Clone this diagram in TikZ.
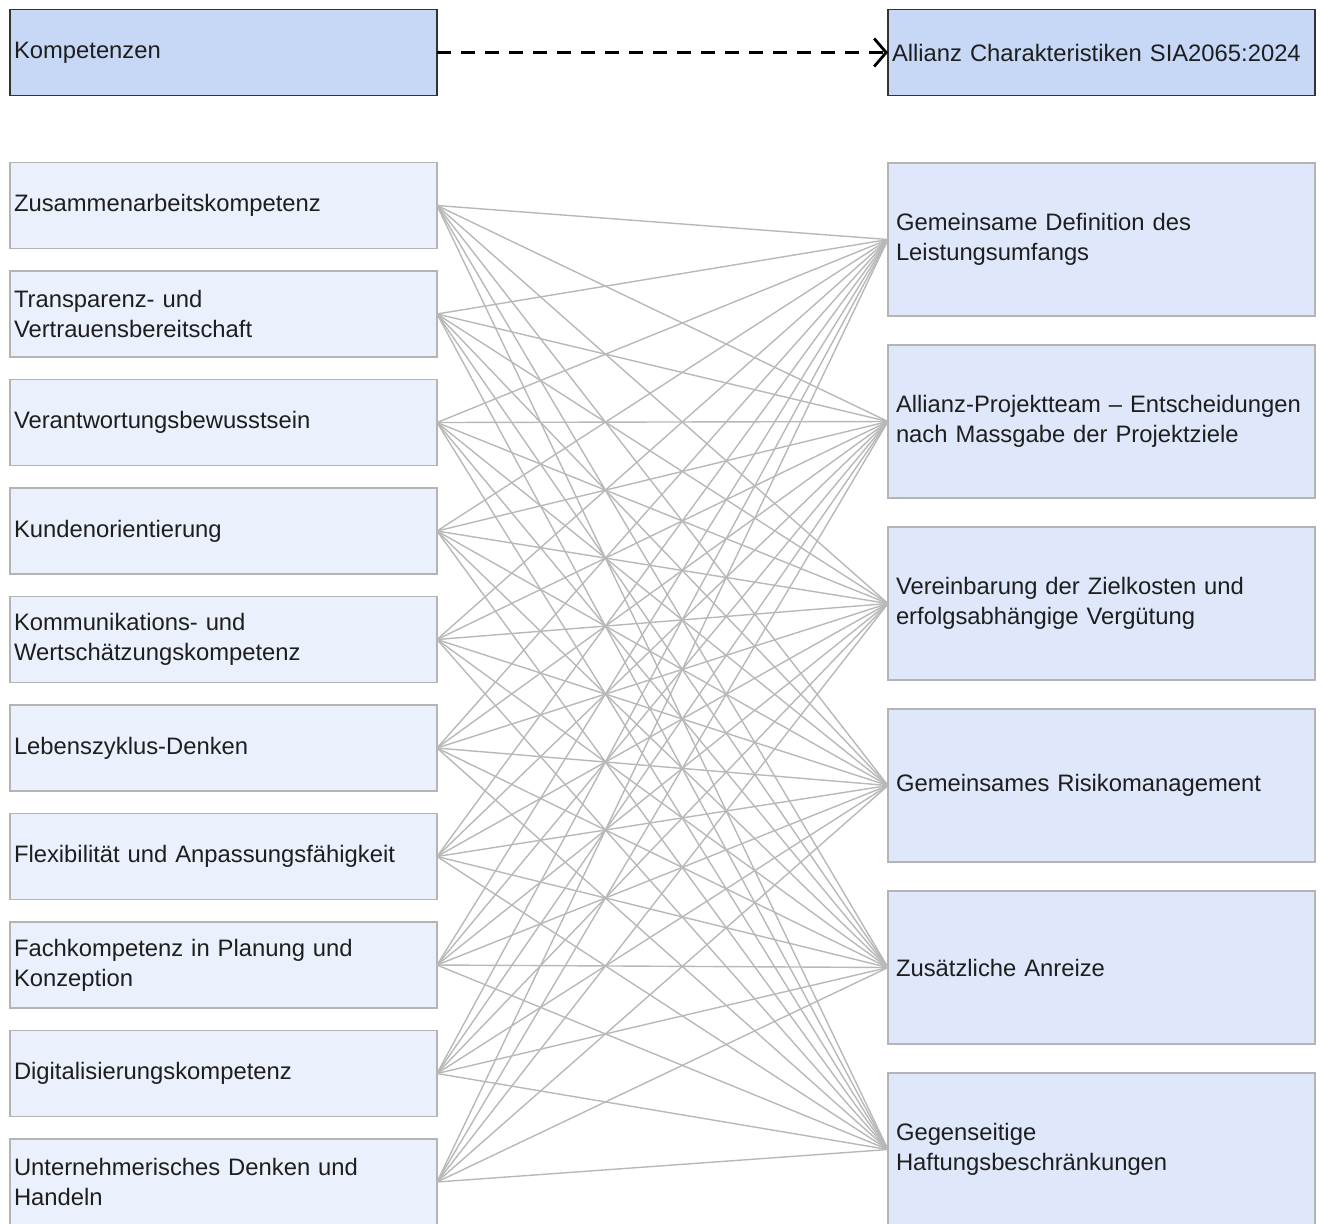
\documentclass[tikz,border=0pt]{standalone}
\usepackage{fontspec}
\setmainfont{Liberation Sans}
\usetikzlibrary{arrows.meta}
\definecolor{headfill}{HTML}{C6D8F5}
\definecolor{leftfill}{HTML}{EAF0FC}
\definecolor{rightfill}{HTML}{DEE8FA}
\definecolor{boxline}{HTML}{B4B4B4}
\definecolor{linkgray}{HTML}{B8B8B8}
\definecolor{txt}{HTML}{1E1E1E}
\hyphenpenalty=10000
\begin{document}
\begin{tikzpicture}[x=0.5pt,y=-0.5pt,>={Straight Barb[length=6pt,width=14pt,line width=1.4pt]},
 every node/.style={font=\fontsize{11.9}{15}\selectfont,text=txt,align=left,inner ysep=0pt,outer sep=0pt},
 headbox/.style={draw=black!80,line width=0.9pt,fill=headfill,minimum width=213.5pt,minimum height=43pt,inner xsep=2pt,text width=209.5pt},
 kompbox/.style={draw=boxline,line width=0.75pt,fill=leftfill,minimum width=213.5pt,minimum height=43pt,inner xsep=2pt,text width=209.5pt},
 allbox/.style={draw=boxline,line width=0.75pt,fill=rightfill,minimum width=213.5pt,minimum height=76.5pt,inner xsep=4pt,text width=205.5pt},
 link/.style={draw=linkgray,line width=0.7pt}]
  \useasboundingbox (0,0) rectangle (1323,1223);
  \node[headbox] (kh) at (223.5,52.5) {Kompetenzen};
  \node[headbox] (ah) at (1101.5,52.5) {Allianz Charakteristiken SIA2065:2024};
  \draw[->,line width=1.2pt,dash pattern=on 7pt off 5pt] (kh.east) -- (ah.west);
  \foreach \t [count=\i] in {Zusammenarbeitskompetenz,{Transparenz- und\\Vertrauensbereitschaft},
    Verantwortungsbewusstsein,Kundenorientierung,{Kommunikations- und\\Wertschätzungskompetenz},
    Lebenszyklus-Denken,Flexibilität und Anpassungsfähigkeit,{Fachkompetenz in Planung und\\Konzeption},
    Digitalisierungskompetenz,{Unternehmerisches Denken und\\Handeln}}
    \node[kompbox] (k\i) at (223.5,97+108.5*\i) {\t};
  \foreach \t [count=\j] in {{Gemeinsame Definition des\\Leistungsumfangs},
    {Allianz-Projektteam -- Entscheidungen\\nach Massgabe der Projektziele},
    {Vereinbarung der Zielkosten und\\erfolgsabhängige Vergütung},Gemeinsames Risikomanagement,
    Zusätzliche Anreize,{Gegenseitige\\Haftungsbeschränkungen}}
    \node[allbox] (a\j) at (1101.5,57.5+182*\j) {\t};
  \foreach \i in {1,...,10}
    \foreach \j in {1,...,6}
      \draw[link] (k\i.east) -- (a\j.west);
\end{tikzpicture}
\end{document}
